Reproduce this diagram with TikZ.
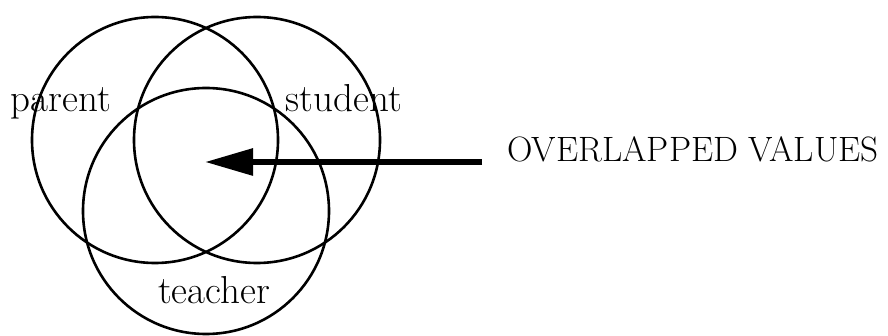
\documentclass[tikz,border=0pt]{standalone}
\usepackage{fontspec}
\usetikzlibrary{arrows.meta}

\begin{document}
\begin{tikzpicture}[x=0.5pt,y=-0.5pt,
    ring/.style={draw,line width=1.3pt},
    lbl/.style={anchor=base,inner sep=0pt,font=\fontsize{19.5}{22}\selectfont},
    pointer/.style={-{Triangle[length=24pt,width=13pt]},line width=3pt}]
            \def\r{123}

            \useasboundingbox (0,0) rectangle (888,336);

            \draw[ring] (155,140) circle (\r);
            \draw[ring] (257,140) circle (\r);
            \draw[ring] (206,211) circle (\r);

            \node[lbl] (parent) at (61,112) {parent};
            \node[lbl] (student) at (344,112) {student};
            \node[lbl] (teacher) at (214,303) {teacher};

            \node[anchor=base west,inner sep=0pt,font=\fontsize{17.6}{21}\selectfont] (overlap) at (507,162) {OVERLAPPED VALUES};
            \coordinate (core) at (205,162);

            \draw[pointer,shorten <=12.5pt] (overlap.base west) -- (core);
        \end{tikzpicture}
\end{document}
